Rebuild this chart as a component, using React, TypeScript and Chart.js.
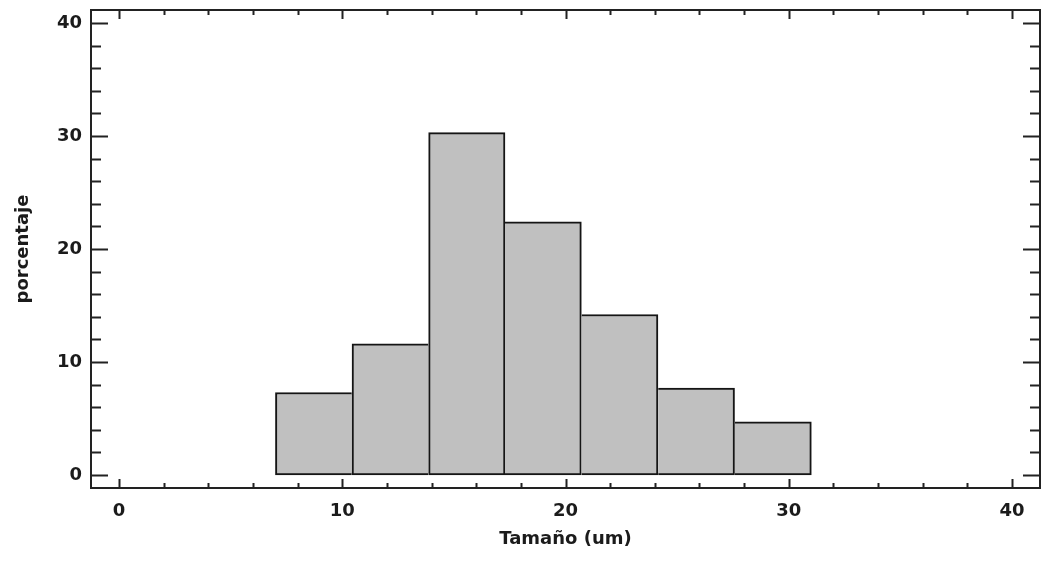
import React, { useEffect, useRef } from "react";
import { Chart, registerables } from "chart.js";

Chart.register(...registerables);

// Histogram bins (centres, um) and percentages
const binCenters = [8.72, 12.15, 15.58, 19.0, 22.43, 25.86, 29.3];
const percentages = [7.3, 11.6, 30.3, 22.4, 14.2, 7.7, 4.7];

// Axis ticks
const xMajorTicks = [0, 10, 20, 30, 40];
const xMinorTicks = [0, 2, 4, 6, 8, 10, 12, 14, 16, 18, 20, 22, 24, 26, 28, 30, 32, 34, 36, 38, 40];
const yMajorTicks = [0, 10, 20, 30, 40];
const yMinorTicks = [0, 2, 4, 6, 8, 10, 12, 14, 16, 18, 20, 22, 24, 26, 28, 30, 32, 34, 36, 38, 40];

const xTitle = "Tamaño (um)";
const yTitle = "porcentaje";

const FONT = "'DejaVu Sans', 'Liberation Sans', Arial, sans-serif";
const INK = "#1b1b1b";

const frameTicks = {
  id: "frameTicks",
  afterDraw(chart: any) {
    const { ctx, chartArea: a, scales } = chart;
    const x = scales.x;
    const y = scales.y;
    ctx.save();
    ctx.strokeStyle = "#222";
    ctx.lineWidth = 2;
    ctx.beginPath();
    xMinorTicks.forEach((v) => {
      const px = Math.round(x.getPixelForValue(v)) + 0.5;
      const len = xMajorTicks.includes(v) ? 9 : 5;
      ctx.moveTo(px, a.top);
      ctx.lineTo(px, a.top + len);
      ctx.moveTo(px, a.bottom);
      ctx.lineTo(px, a.bottom - len);
    });
    yMinorTicks.forEach((v) => {
      const py = Math.round(y.getPixelForValue(v)) + 0.5;
      const len = yMajorTicks.includes(v) ? 17 : 10;
      ctx.moveTo(a.left, py);
      ctx.lineTo(a.left + len, py);
      ctx.moveTo(a.right, py);
      ctx.lineTo(a.right - len, py);
    });
    ctx.stroke();
    ctx.strokeRect(a.left, a.top, a.right - a.left, a.bottom - a.top);
    ctx.restore();
  },
};

export default function App() {
  const ref = useRef<HTMLCanvasElement | null>(null);

  useEffect(() => {
    document.body.style.margin = "0";
    const canvas = ref.current;
    if (!canvas) return;
    const last = percentages.length - 1;
    const chart = new Chart(canvas, {
      type: "bar",
      data: {
        datasets: [
          {
            data: binCenters.map((c, i) => ({ x: c, y: percentages[i] })),
            backgroundColor: "#c0c0c0",
            borderColor: "#151515",
            borderWidth: (ctx: any) => {
              const i = ctx.dataIndex;
              return {
                top: 2,
                bottom: 2,
                left: i === 0 || percentages[i] > percentages[i - 1] ? 2 : 0,
                right: i === last || percentages[i] >= percentages[i + 1] ? 2 : 0,
              };
            },
            borderSkipped: false,
            barPercentage: 1,
            categoryPercentage: 1,
          } as any,
        ],
      },
      options: {
        animation: false,
        responsive: false,
        devicePixelRatio: 1,
        layout: { padding: { top: 10, right: 2, left: 0, bottom: 0 } },
        plugins: {
          legend: { display: false },
          tooltip: { enabled: false },
        },
        scales: {
          x: {
            type: "linear",
            offset: false,
            min: -1.25,
            max: 41.25,
            grid: { display: false, drawTicks: false, offset: false },
            border: { display: false },
            afterBuildTicks: (s: any) => {
              s.ticks = xMajorTicks.map((v) => ({ value: v }));
            },
            afterFit: (s: any) => {
              s.height = 74;
              s.paddingLeft = 0;
              s.paddingRight = 0;
            },
            ticks: {
              padding: 13,
              color: INK,
              font: { family: FONT, size: 18, weight: "bold" },
              maxRotation: 0,
            },
            title: {
              display: true,
              text: xTitle,
              color: INK,
              font: { family: FONT, size: 18, weight: "bold" },
              padding: { top: 0, bottom: 12 },
            },
          },
          y: {
            type: "linear",
            min: -1.15,
            max: 41.15,
            grid: { display: false, drawTicks: false },
            border: { display: false },
            afterBuildTicks: (s: any) => {
              s.ticks = yMajorTicks.map((v) => ({ value: v }));
            },
            afterFit: (s: any) => {
              s.width = 91;
              s.paddingTop = 0;
              s.paddingBottom = 0;
            },
            ticks: {
              padding: 9,
              color: INK,
              font: { family: FONT, size: 18, weight: "bold" },
            },
            title: {
              display: true,
              text: yTitle,
              color: INK,
              font: { family: FONT, size: 18, weight: "bold" },
              padding: { top: 13, bottom: 0 },
            },
          },
        },
      },
      plugins: [frameTicks],
    } as any);
    return () => chart.destroy();
  }, []);

  return (
    <canvas
      ref={ref}
      width={1042}
      height={562}
      style={{ display: "block", width: 1042, height: 562 }}
    />
  );
}
